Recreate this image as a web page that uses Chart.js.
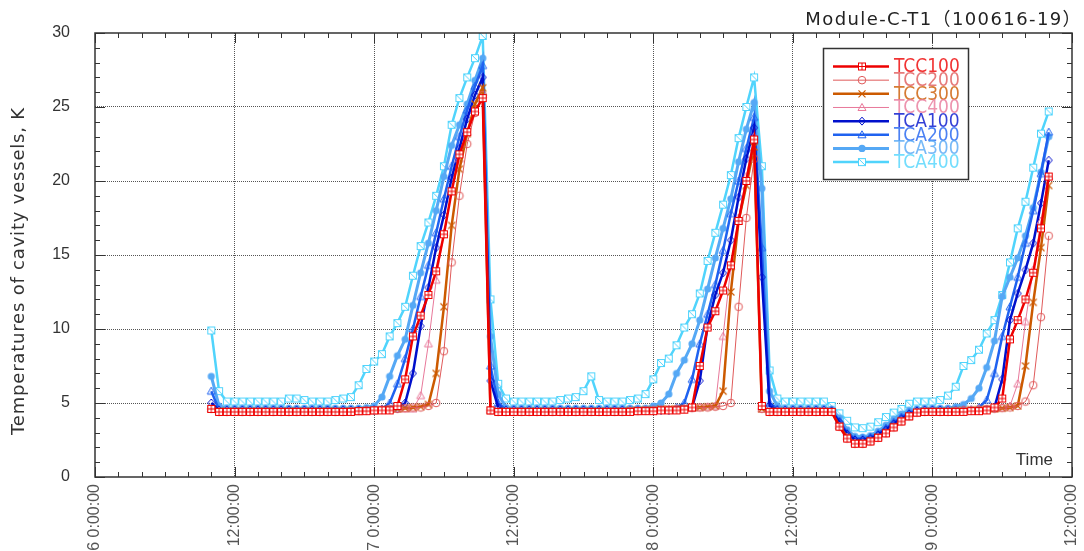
<!DOCTYPE html>
<html>
<head>
<meta charset="utf-8">
<title>Module-C-T1(100616-19)</title>
<script src="https://cdn.jsdelivr.net/npm/chart.js@4.4.1/dist/chart.umd.min.js"></script>
<style>
  html, body { margin: 0; padding: 0; background: #fff; }
  canvas { display: block; }
</style>
</head>
<body>
<canvas id="chart" width="1084" height="551"></canvas>
<script>
// readings every 40 min, first one at 6/16 10:00 (x axis = hours from 6/16 0:00)
const firstHour = 10;
const stepHours = 2 / 3;

const xTickLabels = [
  "2010/06/16 0:00:00", "2010/06/16 12:00:00",
  "2010/06/17 0:00:00", "2010/06/17 12:00:00",
  "2010/06/18 0:00:00", "2010/06/18 12:00:00",
  "2010/06/19 0:00:00", "2010/06/19 12:00:00"
];
const yTickValues = [0, 5, 10, 15, 20, 25, 30];

const seriesNames = ["TCC100", "TCC200", "TCC300", "TCC400", "TCA100", "TCA200", "TCA300", "TCA400"];

const TCC100 = [
  4.6, 4.4, 4.4, 4.4, 4.4, 4.4, 4.4, 4.4, 4.4, 4.4,
  4.4, 4.4, 4.4, 4.4, 4.4, 4.4, 4.4, 4.4, 4.4, 4.45,
  4.45, 4.5, 4.5, 4.5, 4.8, 6.6, 9.5, 10.9, 12.3, 13.9,
  16.4, 19.3, 21.8, 23.3, 24.7, 25.6, 4.5, 4.4, 4.4, 4.4,
  4.4, 4.4, 4.4, 4.4, 4.4, 4.4, 4.4, 4.4, 4.4, 4.4,
  4.4, 4.4, 4.4, 4.4, 4.4, 4.45, 4.45, 4.45, 4.5, 4.5,
  4.5, 4.55, 4.7, 7.5, 10.1, 11.2, 12.6, 14.3, 17.3, 20.0,
  22.8, 4.8, 4.4, 4.4, 4.4, 4.4, 4.4, 4.4, 4.4, 4.4,
  4.4, 3.4, 2.6, 2.25, 2.25, 2.4, 2.65, 2.95, 3.35, 3.75,
  4.1, 4.35, 4.4, 4.4, 4.4, 4.4, 4.4, 4.4, 4.45, 4.45,
  4.5, 4.7, 5.3, 9.3, 10.6, 12.0, 13.8, 16.8, 20.3
];
const TCC200 = [
  4.6, 4.4, 4.4, 4.4, 4.4, 4.4, 4.4, 4.4, 4.4, 4.4,
  4.4, 4.4, 4.4, 4.4, 4.4, 4.4, 4.4, 4.4, 4.45, 4.45,
  4.5, 4.5, 4.55, 4.6, 4.6, 4.65, 4.7, 4.7, 4.8, 5.0,
  8.5, 14.5, 19.0, 22.5, 24.6, 25.8, 4.5, 4.4, 4.4, 4.4,
  4.4, 4.4, 4.4, 4.4, 4.4, 4.4, 4.4, 4.4, 4.4, 4.4,
  4.4, 4.4, 4.4, 4.4, 4.45, 4.45, 4.5, 4.5, 4.55, 4.55,
  4.6, 4.6, 4.65, 4.7, 4.7, 4.75, 4.8, 5.0, 11.5, 17.5,
  21.5, 4.6, 4.4, 4.4, 4.4, 4.4, 4.4, 4.4, 4.4, 4.4,
  4.4, 3.4, 2.6, 2.25, 2.25, 2.4, 2.65, 2.95, 3.35, 3.75,
  4.1, 4.35, 4.4, 4.4, 4.4, 4.4, 4.45, 4.5, 4.5, 4.55,
  4.6, 4.6, 4.65, 4.7, 4.8, 5.1, 6.2, 10.8, 16.3
];
const TCC300 = [
  4.6, 4.45, 4.45, 4.45, 4.45, 4.45, 4.45, 4.45, 4.45, 4.45,
  4.45, 4.45, 4.45, 4.45, 4.45, 4.45, 4.45, 4.45, 4.45, 4.45,
  4.5, 4.5, 4.55, 4.6, 4.6, 4.65, 4.7, 4.75, 4.9, 7.0,
  11.5, 17.0, 20.8, 23.2, 25.2, 26.3, 4.5, 4.45, 4.45, 4.45,
  4.45, 4.45, 4.45, 4.45, 4.45, 4.45, 4.45, 4.45, 4.45, 4.45,
  4.45, 4.45, 4.45, 4.45, 4.5, 4.5, 4.55, 4.55, 4.6, 4.6,
  4.6, 4.65, 4.7, 4.7, 4.75, 4.8, 5.8, 12.5, 17.3, 19.7,
  22.3, 4.6, 4.45, 4.45, 4.45, 4.45, 4.45, 4.45, 4.45, 4.45,
  4.4, 3.45, 2.7, 2.3, 2.3, 2.45, 2.7, 3.0, 3.4, 3.8,
  4.1, 4.35, 4.45, 4.45, 4.45, 4.45, 4.5, 4.5, 4.55, 4.55,
  4.6, 4.6, 4.65, 4.7, 4.8, 7.5, 11.8, 15.5, 19.7
];
const TCC400 = [
  4.6, 4.45, 4.45, 4.45, 4.45, 4.45, 4.45, 4.45, 4.45, 4.45,
  4.45, 4.45, 4.45, 4.45, 4.45, 4.45, 4.45, 4.45, 4.45, 4.45,
  4.5, 4.5, 4.55, 4.55, 4.6, 4.6, 4.6, 5.5, 9.0, 13.3,
  16.5, 19.3, 21.5, 23.3, 24.8, 25.8, 4.5, 4.45, 4.45, 4.45,
  4.45, 4.45, 4.45, 4.45, 4.45, 4.45, 4.45, 4.45, 4.45, 4.45,
  4.45, 4.45, 4.45, 4.45, 4.5, 4.5, 4.5, 4.55, 4.55, 4.6,
  4.6, 4.65, 4.7, 4.7, 4.75, 4.8, 9.5, 14.2, 17.5, 20.3,
  23.0, 4.6, 4.45, 4.45, 4.45, 4.45, 4.45, 4.45, 4.45, 4.45,
  4.4, 3.45, 2.7, 2.3, 2.3, 2.45, 2.7, 3.0, 3.4, 3.8,
  4.1, 4.35, 4.45, 4.45, 4.45, 4.5, 4.5, 4.55, 4.55, 4.6,
  4.6, 4.65, 4.7, 4.8, 6.3, 10.5, 14.0, 17.3, 20.3
];
const TCA100 = [
  5.0, 4.5, 4.5, 4.5, 4.5, 4.5, 4.5, 4.5, 4.5, 4.5,
  4.5, 4.5, 4.5, 4.5, 4.5, 4.5, 4.5, 4.5, 4.5, 4.5,
  4.5, 4.5, 4.55, 4.55, 4.6, 5.0, 7.0, 10.2, 12.8, 15.5,
  17.7, 20.2, 22.2, 24.2, 25.8, 27.0, 6.5, 4.7, 4.5, 4.5,
  4.5, 4.5, 4.5, 4.5, 4.5, 4.5, 4.5, 4.5, 4.5, 4.5,
  4.5, 4.5, 4.5, 4.5, 4.5, 4.5, 4.5, 4.5, 4.5, 4.5,
  4.55, 4.6, 4.7, 6.5, 10.2, 12.3, 13.8, 16.0, 18.9, 21.5,
  23.6, 13.5, 4.8, 4.5, 4.5, 4.5, 4.5, 4.5, 4.5, 4.5,
  4.45, 3.7, 2.9, 2.5, 2.5, 2.6, 2.85, 3.2, 3.6, 3.95,
  4.25, 4.45, 4.5, 4.5, 4.5, 4.5, 4.5, 4.5, 4.5, 4.5,
  4.55, 4.7, 6.6, 10.6, 12.4, 14.0, 15.8, 18.5, 21.4
];
const TCA200 = [
  5.8, 4.55, 4.55, 4.55, 4.55, 4.55, 4.55, 4.55, 4.55, 4.55,
  4.55, 4.55, 4.55, 4.55, 4.55, 4.55, 4.55, 4.55, 4.55, 4.55,
  4.55, 4.6, 4.6, 5.0, 6.3, 8.0, 10.0, 12.2, 14.3, 16.5,
  18.8, 21.0, 23.0, 24.8, 26.4, 27.8, 7.5, 5.0, 4.55, 4.55,
  4.55, 4.55, 4.55, 4.55, 4.55, 4.55, 4.55, 4.55, 4.55, 4.55,
  4.55, 4.55, 4.55, 4.55, 4.55, 4.55, 4.55, 4.55, 4.55, 4.55,
  4.7, 5.0, 6.6, 9.0, 11.0, 13.0, 15.3, 17.8, 20.0, 22.2,
  24.3, 15.5, 5.0, 4.6, 4.55, 4.55, 4.55, 4.55, 4.55, 4.55,
  4.5, 3.8, 3.0, 2.6, 2.6, 2.7, 2.95, 3.3, 3.7, 4.05,
  4.35, 4.5, 4.55, 4.55, 4.55, 4.55, 4.55, 4.55, 4.55, 4.7,
  5.2, 7.0, 9.5, 11.5, 13.5, 15.8, 18.0, 20.5, 23.3
];
const TCA300 = [
  6.8, 4.8, 4.65, 4.65, 4.65, 4.65, 4.65, 4.65, 4.65, 4.65,
  4.65, 4.65, 4.65, 4.65, 4.65, 4.65, 4.65, 4.65, 4.65, 4.65,
  4.7, 4.8, 5.4, 6.8, 8.2, 9.3, 11.6, 13.8, 15.8, 18.0,
  20.3, 22.4, 23.8, 25.2, 26.8, 28.3, 9.5, 5.6, 4.7, 4.65,
  4.65, 4.65, 4.65, 4.65, 4.65, 4.65, 4.65, 4.65, 4.65, 4.65,
  4.65, 4.65, 4.65, 4.65, 4.65, 4.65, 4.65, 4.8, 5.0, 5.6,
  7.0, 7.9, 9.0, 10.6, 12.7, 14.8, 16.8, 18.8, 21.3, 23.5,
  25.3, 19.5, 5.8, 4.8, 4.65, 4.65, 4.65, 4.65, 4.65, 4.65,
  4.6, 4.0, 3.2, 2.75, 2.7, 2.8, 3.1, 3.5, 3.9, 4.25,
  4.5, 4.6, 4.65, 4.65, 4.65, 4.65, 4.75, 4.9, 5.3, 6.0,
  7.4, 9.2, 12.2, 13.5, 14.8, 16.3, 18.2, 20.6, 23.0
];
const TCA400 = [
  9.9, 5.8, 5.1, 5.1, 5.1, 5.1, 5.1, 5.1, 5.1, 5.1,
  5.3, 5.3, 5.2, 5.1, 5.1, 5.1, 5.2, 5.3, 5.4, 6.2,
  7.3, 7.8, 8.3, 9.5, 10.4, 11.5, 13.6, 15.6, 17.2, 19.0,
  21.0, 23.8, 25.6, 27.0, 28.3, 29.8, 12.0, 6.3, 5.3, 5.1,
  5.1, 5.1, 5.1, 5.1, 5.1, 5.2, 5.3, 5.4, 5.8, 6.8,
  5.2, 5.1, 5.1, 5.1, 5.2, 5.3, 5.6, 6.6, 7.7, 8.0,
  8.9, 10.1, 11.0, 12.4, 14.6, 16.5, 18.4, 20.4, 22.9, 25.0,
  27.0, 21.0, 7.2, 5.3, 5.1, 5.1, 5.1, 5.1, 5.1, 5.1,
  4.8, 4.3, 3.8, 3.35, 3.3, 3.4, 3.7, 4.05, 4.35, 4.6,
  4.95, 5.1, 5.1, 5.1, 5.2, 5.5, 6.1, 7.5, 7.9, 8.6,
  9.7, 10.6, 12.3, 14.5, 16.8, 18.6, 20.9, 23.2, 24.7
];

const seriesValues = [TCC100, TCC200, TCC300, TCC400, TCA100, TCA200, TCA300, TCA400];
const seriesColors = ["#ee0000", "#e05a5a", "#cc5a00", "#e8789a", "#0010cc", "#1f62f0", "#55a8f5", "#50d4fc"];
const seriesWidths = [2.5, 1, 2.5, 1, 2.5, 2.5, 3, 2.5];
const seriesMarkers = ["boxPlus", "circle", "cross", "triangle", "diamond", "triangle", "dot", "boxSlash"];

function drawMarker(ctx, kind, cx, cy, color) {
  ctx.save();
  ctx.strokeStyle = color;
  ctx.fillStyle = color;
  ctx.lineWidth = 1;
  ctx.beginPath();
  if (kind === "boxPlus" || kind === "boxSlash") {
    ctx.fillStyle = "#fff";
    ctx.fillRect(cx - 3.5, cy - 3.5, 7, 7);
    ctx.strokeRect(cx - 3.5, cy - 3.5, 7, 7);
    if (kind === "boxPlus") {
      ctx.moveTo(cx, cy - 3.5); ctx.lineTo(cx, cy + 3.5);
      ctx.moveTo(cx - 3.5, cy); ctx.lineTo(cx + 3.5, cy);
    } else {
      ctx.moveTo(cx - 3.5, cy - 3.5); ctx.lineTo(cx + 3.5, cy + 3.5);
    }
    ctx.stroke();
  } else if (kind === "circle") {
    ctx.arc(cx, cy, 3.8, 0, Math.PI * 2);
    ctx.stroke();
  } else if (kind === "dot") {
    ctx.arc(cx, cy, 3.6, 0, Math.PI * 2);
    ctx.fill();
  } else if (kind === "cross") {
    ctx.lineWidth = 1.2;
    ctx.moveTo(cx - 3.5, cy - 3.5); ctx.lineTo(cx + 3.5, cy + 3.5);
    ctx.moveTo(cx + 3.5, cy - 3.5); ctx.lineTo(cx - 3.5, cy + 3.5);
    ctx.stroke();
  } else if (kind === "triangle") {
    ctx.moveTo(cx, cy - 4); ctx.lineTo(cx + 4, cy + 3); ctx.lineTo(cx - 4, cy + 3);
    ctx.closePath();
    ctx.stroke();
  } else if (kind === "diamond") {
    ctx.moveTo(cx, cy - 4); ctx.lineTo(cx + 3.5, cy); ctx.lineTo(cx, cy + 4); ctx.lineTo(cx - 3.5, cy);
    ctx.closePath();
    ctx.stroke();
  }
  ctx.restore();
}

function markerImage(kind, color) {
  const c = document.createElement("canvas");
  c.width = 12;
  c.height = 12;
  drawMarker(c.getContext("2d"), kind, 6, 6, color);
  return c;
}

// inward ticks on all four sides + frame
const framePlugin = {
  id: "frame",
  afterDatasetsDraw(chart) {
    const { ctx, chartArea: a, scales } = chart;
    const x = scales.x, y = scales.y;
    ctx.save();
    ctx.strokeStyle = "#333";
    ctx.lineWidth = 1;
    ctx.beginPath();
    for (let h = 0; h <= 84; h += 2) {
      const px = Math.round(x.getPixelForValue(h)) + 0.5;
      const len = h % 12 === 0 ? 10 : 5;
      ctx.moveTo(px, a.bottom); ctx.lineTo(px, a.bottom - len);
      ctx.moveTo(px, a.top); ctx.lineTo(px, a.top + len);
    }
    for (let v = 0; v <= 30; v += 1) {
      const py = Math.round(y.getPixelForValue(v)) + 0.5;
      const len = v % 5 === 0 ? 10 : 5;
      ctx.moveTo(a.left, py); ctx.lineTo(a.left + len, py);
      ctx.moveTo(a.right, py); ctx.lineTo(a.right - len, py);
    }
    ctx.stroke();
    ctx.lineWidth = 1.5;
    ctx.strokeRect(a.left, a.top, a.right - a.left, a.bottom - a.top);
    ctx.restore();
  }
};

// texts and the boxed legend
const textPlugin = {
  id: "texts",
  afterDraw(chart) {
    const ctx = chart.ctx;
    ctx.save();
    ctx.fillStyle = "#222";
    ctx.textBaseline = "alphabetic";

    ctx.font = "18px 'DejaVu Sans', 'Noto Sans CJK JP', sans-serif";
    ctx.letterSpacing = "1.4px";
    ctx.textAlign = "right";
    ctx.fillText("Module-C-T1\uFF08100616-19\uFF09", 1082, 25);

    ctx.letterSpacing = "0.8px";
    ctx.save();
    ctx.translate(24, 271);
    ctx.rotate(-Math.PI / 2);
    ctx.textAlign = "center";
    ctx.fillStyle = "#333";
    ctx.fillText("Temperatures of cavity vessels, K", 0, 0);
    ctx.restore();

    ctx.letterSpacing = "0px";
    ctx.font = "17px 'Liberation Sans', sans-serif";
    ctx.textAlign = "right";
    ctx.fillStyle = "#333";
    ctx.fillText("Time", 1053, 465);

    // legend
    ctx.fillStyle = "#fff";
    ctx.fillRect(823, 48, 146, 132);
    ctx.strokeStyle = "#333";
    ctx.lineWidth = 1.5;
    ctx.strokeRect(823.5, 48.5, 145, 131);
    ctx.font = "19px 'Liberation Sans Narrow', 'DejaVu Sans Condensed', sans-serif";
    ctx.textAlign = "left";
    ctx.textBaseline = "middle";
    seriesNames.forEach((name, k) => {
      const ry = 66.5 + k * 13.66;
      ctx.strokeStyle = seriesColors[k];
      ctx.lineWidth = seriesWidths[k];
      ctx.beginPath();
      ctx.moveTo(833, ry);
      ctx.lineTo(889, ry);
      ctx.stroke();
      drawMarker(ctx, seriesMarkers[k], 862, ry, seriesColors[k]);
      ctx.fillStyle = seriesColors[k];
      ctx.globalAlpha = 0.8;
      ctx.fillText(name, 894, ry + 1);
      ctx.globalAlpha = 1;
    });
    ctx.restore();
  }
};

const datasets = seriesNames.map((name, k) => ({
  label: name,
  data: seriesValues[k].map((v, i) => ({ x: firstHour + i * stepHours, y: v })),
  borderColor: seriesColors[k],
  backgroundColor: seriesColors[k],
  borderWidth: seriesWidths[k],
  pointStyle: markerImage(seriesMarkers[k], seriesColors[k]),
  pointRadius: 4,
  pointHoverRadius: 4,
  tension: 0,
  fill: false
}));

new Chart(document.getElementById("chart"), {
  type: "line",
  data: { datasets },
  plugins: [framePlugin, textPlugin],
  options: {
    responsive: false,
    animation: false,
    events: [],
    layout: { padding: { top: 33, right: 12, left: 0, bottom: 0 } },
    plugins: {
      legend: { display: false },
      tooltip: { enabled: false },
      title: { display: false }
    },
    scales: {
      x: {
        type: "linear",
        min: 0,
        max: 84,
        afterFit: (s) => { s.height = 74; s.paddingLeft = 0; s.paddingRight = 0; },
        border: { display: false, dash: [1, 1] },
        grid: {
          drawTicks: false,
          color: (c) => (c.tick && c.tick.value > 0 && c.tick.value < 84 ? "#555" : "rgba(0,0,0,0)")
        },
        ticks: {
          stepSize: 12,
          autoSkip: false,
          minRotation: 90,
          maxRotation: 90,
          padding: 7,
          color: "#555",
          font: { family: "'Liberation Sans', sans-serif", size: 16 },
          callback: (v, i) => xTickLabels[i]
        }
      },
      y: {
        min: 0,
        max: 30,
        afterFit: (s) => { s.width = 95; s.paddingTop = 0; s.paddingBottom = 0; },
        afterBuildTicks: (s) => { s.ticks = yTickValues.map((v) => ({ value: v })); },
        border: { display: false, dash: [1, 1] },
        grid: {
          drawTicks: false,
          color: (c) => (c.tick && c.tick.value > 0 && c.tick.value < 30 ? "#555" : "rgba(0,0,0,0)")
        },
        ticks: {
          padding: 25,
          color: "#333",
          font: { family: "'Liberation Sans', sans-serif", size: 16 }
        }
      }
    }
  }
});
</script>
</body>
</html>
